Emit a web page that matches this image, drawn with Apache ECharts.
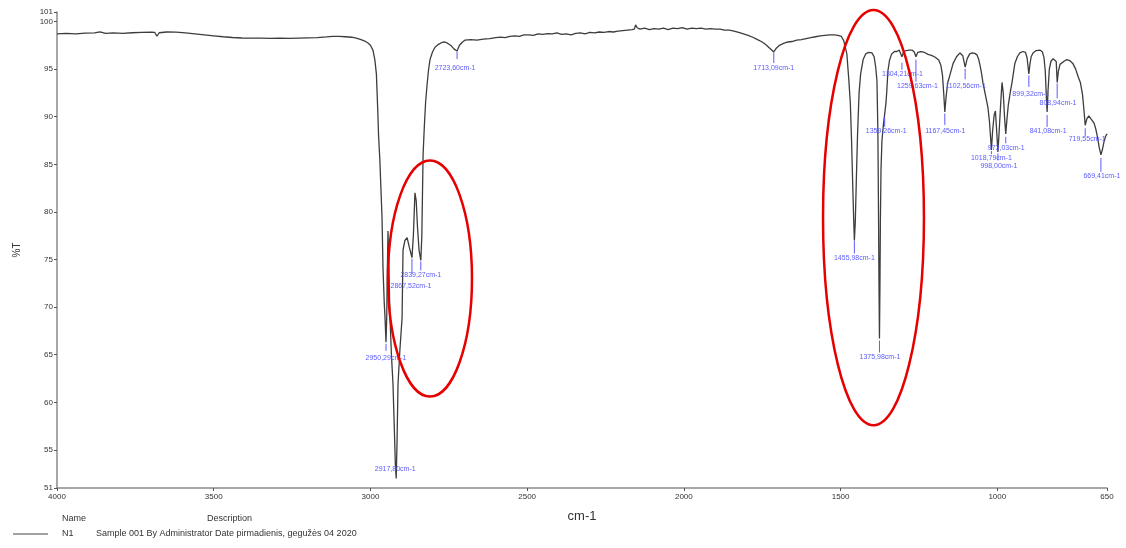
<!DOCTYPE html>
<html>
<head>
<meta charset="utf-8">
<title>FTIR spectrum N1</title>
<script src="https://cdn.jsdelivr.net/npm/echarts@6/dist/echarts.min.js"></script>
<style>
  html, body { margin: 0; padding: 0; background: #ffffff; }
  #chart { width: 1126px; height: 548px; }
</style>
</head>
<body>
<div id="chart"></div>
<script>
// Wavenumber axis (cm-1) and transmittance axis (%T) tick values
const xTicks = [4000, 3500, 3000, 2500, 2000, 1500, 1000, 650];
const yTicks = [51, 55, 60, 65, 70, 75, 80, 85, 90, 95, 100, 101];

// Spectrum trace between the labelled peaks: wavenumber (cm-1) and %T
const spectrumWn = [
  4000, 3970, 3940, 3910, 3880, 3863, 3845, 3820, 3790, 3760, 3730, 3700, 3688, 3681, 3674,
  3650, 3620, 3590, 3560, 3530, 3500, 3470, 3440, 3410, 3380, 3350, 3320, 3290, 3260, 3230,
  3200, 3170, 3140, 3120, 3100, 3080, 3060, 3045, 3030, 3018, 3008, 3000, 2992, 2986, 2981,
  2977, 2974, 2970, 2966, 2963, 2960, 2956, 2953.5, 2948, 2946, 2944, 2941, 2937.6, 2933, 2928,
  2924, 2920.5, 2915, 2912, 2906, 2899, 2896, 2890, 2883, 2876, 2863, 2858, 2854, 2850, 2845,
  2836, 2832, 2828, 2824, 2820, 2815, 2810, 2802, 2794, 2783, 2772, 2762, 2753, 2742, 2733,
  2716, 2706, 2698, 2680, 2660, 2640, 2620, 2600, 2585, 2570, 2555, 2540, 2525, 2510, 2495,
  2480, 2465, 2450, 2435, 2420, 2405, 2390, 2375, 2360, 2345, 2330, 2315, 2300, 2285, 2270,
  2255, 2240, 2225, 2210, 2195, 2180, 2165, 2158, 2154, 2149, 2140, 2125, 2110, 2095, 2080,
  2065, 2050, 2035, 2020, 2005, 1990, 1975, 1960, 1945, 1930, 1915, 1900, 1885, 1870, 1855,
  1840, 1825, 1810, 1795, 1780, 1765, 1750, 1738, 1726, 1705, 1695, 1682, 1668, 1655, 1640,
  1625, 1610, 1595, 1580, 1565, 1550, 1535, 1520, 1508, 1498, 1490, 1485, 1480, 1474, 1469,
  1465, 1461, 1458, 1453, 1450, 1446, 1441, 1436, 1428, 1420, 1410, 1400, 1393, 1388, 1384,
  1381, 1379, 1377.5, 1374.5, 1373, 1371, 1368, 1363, 1355, 1352, 1349, 1344, 1337, 1328, 1320,
  1313, 1308, 1299, 1291, 1280, 1272, 1265, 1254, 1243, 1232, 1221, 1210, 1198, 1187, 1180,
  1175, 1171, 1163, 1158, 1151, 1141, 1130, 1119, 1110, 1096, 1088, 1080, 1072, 1065, 1060,
  1055, 1050, 1046, 1038, 1030, 1025, 1021, 1015, 1010, 1006, 1002, 994, 989, 985, 981,
  977, 969, 965, 959, 953, 944, 936, 928, 918, 910, 905, 902, 896, 892, 886,
  876, 864, 856, 851, 847, 844, 838, 834, 829, 822, 816, 812, 805, 800, 794,
  786, 778, 769, 759, 750, 742, 735, 728, 723, 714, 708, 703, 697, 691, 685,
  680, 675, 665, 660, 655, 650
];
const spectrumT = [
  98.7, 98.75, 98.7, 98.78, 98.8, 98.92, 98.75, 98.8, 98.75, 98.82, 98.85, 98.88, 98.85, 98.45, 98.82,
  98.9, 98.88, 98.8, 98.7, 98.6, 98.5, 98.4, 98.32, 98.27, 98.25, 98.26, 98.24, 98.25, 98.22, 98.25,
  98.28, 98.3, 98.38, 98.45, 98.43, 98.4, 98.35, 98.25, 98.1, 97.95, 97.75, 97.5, 97.0, 96.0, 94.5,
  91.0, 88.0, 85.5, 82.0, 79.4, 74.2, 70.5, 68.9, 69.0, 74.0, 78.0, 74.0, 68.9, 65.0, 61.9,
  57.5, 53.5, 56.0, 61.9, 65.5, 68.9, 76.0, 77.0, 77.3, 76.3, 77.5, 82.0, 81.2, 78.5, 76.0,
  77.5, 86.0, 89.0, 91.5, 93.1, 94.8, 96.0, 96.8, 97.3, 97.6, 97.8, 97.85, 97.7, 97.45, 97.1,
  97.5, 97.85, 98.05, 98.1, 98.05, 98.15, 98.2, 98.3, 98.35, 98.3, 98.45, 98.5, 98.45, 98.6, 98.6,
  98.55, 98.7, 98.65, 98.72, 98.7, 98.8, 98.65, 98.7, 98.6, 98.75, 98.8, 98.7, 98.85, 98.8, 98.9,
  98.85, 98.95, 98.9, 99.0, 99.05, 99.1, 99.15, 99.2, 99.65, 99.35, 99.2, 99.3, 99.15, 99.25, 99.2,
  99.3, 99.15, 99.3, 99.25, 99.35, 99.2, 99.3, 99.25, 99.3, 99.2, 99.25, 99.2, 99.2, 99.1, 99.1,
  99.0, 98.85, 98.7, 98.55, 98.35, 98.1, 97.85, 97.55, 97.2, 97.2, 97.5, 97.7, 97.85, 97.9, 98.05,
  98.1, 98.2, 98.3, 98.4, 98.5, 98.55, 98.6, 98.6, 98.55, 98.45, 98.0, 97.3, 96.6, 94.0, 91.5,
  87.5, 82.5, 79.0, 79.0, 83.0, 88.0, 92.5, 94.5, 96.0, 96.6, 96.75, 96.7, 96.3, 95.2, 93.8,
  88.5, 80.0, 72.5, 72.0, 79.0, 84.5, 87.5, 89.3, 91.5, 93.0, 94.8, 95.9, 96.6, 96.85, 96.85,
  97.0, 96.85, 96.8, 96.95, 97.0, 97.0, 96.8, 96.75, 96.85, 96.75, 96.55, 96.45, 96.25, 95.95, 95.4,
  94.4, 92.5, 92.2, 93.6, 94.4, 95.6, 96.3, 96.7, 96.4, 96.1, 96.6, 96.7, 96.65, 96.5, 96.1,
  95.4, 94.5, 93.6, 92.3, 91.0, 89.5, 87.6, 88.5, 90.2, 90.6, 88.5, 88.5, 91.5, 93.6, 92.5,
  90.0, 89.8, 91.2, 92.5, 93.6, 95.6, 96.3, 96.7, 96.85, 96.75, 96.2, 95.3, 95.5, 96.3, 96.7,
  96.95, 97.0, 96.8, 96.2, 94.8, 92.5, 92.8, 95.0, 95.8, 96.1, 96.3, 95.8, 94.8, 95.5, 95.7,
  95.85, 96.0, 95.9, 95.6, 95.0, 94.2, 93.6, 92.3, 90.5, 89.8, 90.1, 90.0, 89.6, 89.3, 88.6,
  87.8, 86.8, 86.5, 87.3, 87.9, 88.2
];

// Labelled absorption peaks: wavenumber (cm-1) and %T at the peak
const peakWn = [
  2950.29, 2917.80, 2867.52, 2839.27, 2723.60, 1713.09, 1455.98, 1375.98, 1359.26, 1304.21,
  1259.63, 1167.45, 1102.56, 1018.79, 998.00, 973.03, 899.32, 841.08, 808.94, 719.55, 669.41
];
const peakT = [
  66.3, 52.0, 75.2, 74.9, 96.9, 96.8, 77.0, 66.7, 90.3, 96.3,
  96.3, 90.5, 95.2, 86.5, 86.3, 88.2, 94.5, 90.5, 93.6, 89.1, 86.0
];

// Legend table
const legendHeader = ['Name', 'Description'];
const legendRow = ['N1', 'Sample 001 By Administrator Date pirmadienis, gegužės 04 2020'];

// Highlighted band groups, as centre and half-extent in axis units
const bandGroups = [
  { wn: 2810, t: 73.0, halfWn: 134, halfT: 12.4 },
  { wn: 1395, t: 79.4, halfWn: 161, halfT: 21.8 }
];

// Leader-line and text offsets (px) for each peak label, same order as peakWn
const peakLabelLayout = [
  { a: 1.5, b: 8.5, dx: 0, dy: 15.5 },
  { a: 0, b: 0, dx: -1, dy: -9.5 },
  { a: 1, b: 16, dx: -1, dy: 28 },
  { a: 1, b: 10, dx: 0, dy: 15 },
  { a: 0.5, b: 8, dx: -2, dy: 17 },
  { a: 0.5, b: 11, dx: 0, dy: 16 },
  { a: 0.5, b: 13, dx: 0, dy: 18 },
  { a: 2, b: 14, dx: 0.5, dy: 19 },
  { a: 3, b: 13, dx: 1.5, dy: 17 },
  { a: 6, b: 13, dx: 0.5, dy: 17.5 },
  { a: 3, b: 25, dx: 1.5, dy: 29.5 },
  { a: 1.5, b: 13, dx: 0.5, dy: 19 },
  { a: 1.5, b: 12, dx: 0.5, dy: 19 },
  { a: 1, b: 4, dx: 0, dy: 8.5 },
  { a: 1.5, b: 8.5, dx: 1, dy: 14.5 },
  { a: 3, b: 9.5, dx: 0.5, dy: 14.5 },
  { a: 1.5, b: 13, dx: 2, dy: 20 },
  { a: 3, b: 15, dx: 1, dy: 19 },
  { a: 1, b: 16, dx: 0.8, dy: 21 },
  { a: 3, b: 11, dx: 2, dy: 14 },
  { a: 3, b: 17, dx: 1, dy: 21.5 }
];

const FONT = '"Liberation Sans", Arial, Helvetica, sans-serif';
const INK = '#333333';
const PEAK_BLUE = '#5b5bff';

// Merge the trace with the peak points so every label sits on the curve
const traceData = spectrumWn.map((w, i) => [w, spectrumT[i]])
  .concat(peakWn.map((w, i) => [w, peakT[i]]))
  .sort((p, q) => q[0] - p[0]);

const peakData = peakWn.map((w, i) => [w, peakT[i], i]);
const peakText = w => w.toFixed(2).replace('.', ',') + 'cm-1';

const chart = echarts.init(document.getElementById('chart'), null, { renderer: 'canvas' });

chart.setOption({
  animation: false,
  backgroundColor: '#ffffff',
  grid: { left: 57, right: 19, top: 12, bottom: 60, containLabel: false },
  xAxis: {
    type: 'value',
    inverse: true,
    min: 650,
    max: 4000,
    name: 'cm-1',
    nameLocation: 'middle',
    nameGap: 22,
    nameTextStyle: { fontFamily: FONT, fontSize: 13, color: INK },
    axisLine: { show: true, lineStyle: { color: '#8a8a8a', width: 1.5 } },
    axisTick: { show: true, length: 3, customValues: xTicks, lineStyle: { color: '#555' } },
    axisLabel: { customValues: xTicks, fontFamily: FONT, fontSize: 8, color: INK, margin: 5,
      formatter: v => String(v) },
    splitLine: { show: false }
  },
  yAxis: {
    type: 'value',
    min: 51,
    max: 101,
    name: '%T',
    nameLocation: 'middle',
    nameGap: 35,
    nameRotate: 90,
    nameTextStyle: { fontFamily: FONT, fontSize: 10, color: INK },
    axisLine: { show: true, lineStyle: { color: '#8a8a8a', width: 1.5 } },
    axisTick: { show: true, length: 3, customValues: yTicks, lineStyle: { color: '#555' } },
    axisLabel: { customValues: yTicks, fontFamily: FONT, fontSize: 8, color: INK, margin: 4,
      formatter: v => String(v) },
    splitLine: { show: false }
  },
  series: [
    {
      name: 'N1',
      type: 'line',
      data: traceData,
      showSymbol: false,
      symbol: 'none',
      smooth: false,
      sampling: null,
      lineStyle: { color: '#3d3d3d', width: 1.3 },
      z: 3
    },
    {
      name: 'peaks',
      type: 'custom',
      data: peakData,
      clip: false,
      z: 4,
      renderItem: (params, api) => {
        const p = api.coord([api.value(0), api.value(1)]);
        const L = peakLabelLayout[api.value(2)];
        const children = [];
        if (L.b > L.a) {
          children.push({
            type: 'line',
            shape: { x1: p[0], y1: p[1] + L.a, x2: p[0], y2: p[1] + L.b },
            style: { stroke: PEAK_BLUE, lineWidth: 1 }
          });
        }
        children.push({
          type: 'text',
          x: p[0] + L.dx,
          y: p[1] + L.dy,
          style: {
            text: peakText(api.value(0)),
            fill: PEAK_BLUE,
            font: '7px ' + FONT,
            align: 'center',
            verticalAlign: 'middle'
          }
        });
        return { type: 'group', children };
      }
    },
    {
      name: 'bands',
      type: 'custom',
      data: bandGroups.map(g => [g.wn, g.t, g.halfWn, g.halfT]),
      clip: false,
      z: 5,
      renderItem: (params, api) => {
        const wn = api.value(0), t = api.value(1), hw = api.value(2), ht = api.value(3);
        const c = api.coord([wn, t]);
        const ex = api.coord([wn - hw, t]);
        const ey = api.coord([wn, t + ht]);
        return {
          type: 'ellipse',
          shape: { cx: c[0], cy: c[1], rx: Math.abs(ex[0] - c[0]), ry: Math.abs(c[1] - ey[1]) },
          style: { fill: 'none', stroke: '#e60000', lineWidth: 2.5 }
        };
      }
    }
  ],
  graphic: [
    { type: 'text', left: 62, top: 514, style: { text: legendHeader[0], font: '9px ' + FONT, fill: INK } },
    { type: 'text', left: 207, top: 514, style: { text: legendHeader[1], font: '9px ' + FONT, fill: INK } },
    { type: 'line', shape: { x1: 13, y1: 534, x2: 48, y2: 534 }, style: { stroke: '#444', lineWidth: 1 } },
    { type: 'text', left: 62, top: 529, style: { text: legendRow[0], font: '9px ' + FONT, fill: INK } },
    { type: 'text', left: 96, top: 529, style: { text: legendRow[1], font: '9px ' + FONT, fill: INK } }
  ]
});
</script>
</body>
</html>
